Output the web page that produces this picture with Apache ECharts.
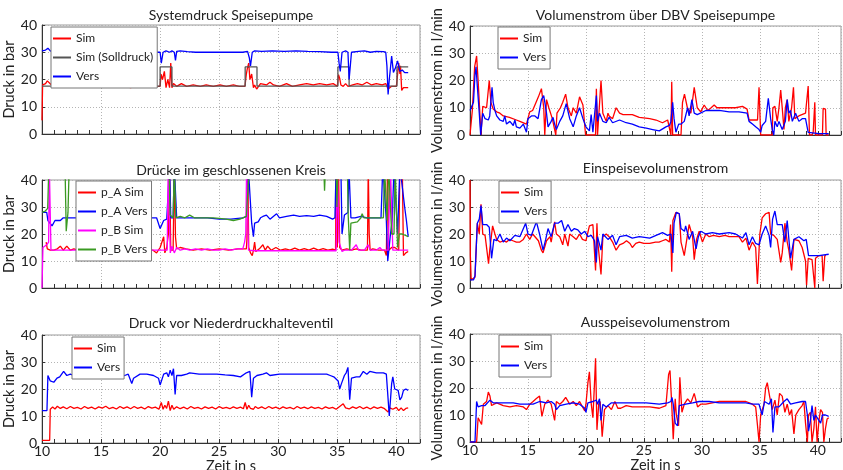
<!DOCTYPE html>
<html><head><meta charset="utf-8">
<script src="https://cdn.jsdelivr.net/npm/echarts@6/dist/echarts.min.js"></script>
<style>html,body{margin:0;padding:0;background:#fff}#c{width:843px;height:470px}</style>
</head><body><div id="c"></div>
<script>
// ---- axis ranges / tick labels ----
const xRange = [10, 42];
const xMajor = 5;
const xMinor = 1;
const yRange = [0, 40];
const yMajor = 10;

// ---- Panel 1: Systemdruck Speisepumpe ----
const sysSim = [[10,5],[10.05,18],[10.3,18.5],[10.45,19.5],[10.6,19.8],[10.8,18],[11,17.5],[11.5,17.5],[12,17.8],[13,17.5],[14,17.8],[15,17.5],[16,17.5],[17,17.5],[17.5,17],[18,17.5],[19,17.5],[19.6,17.5],[20,17.5],[20.08,22],[20.2,20],[20.36,23],[20.5,17],[20.65,20],[20.8,17],[20.9,26],[21,17],[21.13,18.5],[21.4,17.5],[21.8,18.5],[22.25,17.5],[22.8,18],[23.4,17.5],[23.9,18],[24.5,17.5],[25.07,18],[25.6,17.5],[26.2,18],[26.7,17.5],[27.18,17.5],[27.3,22],[27.38,24],[27.5,26],[27.6,20],[27.75,22],[27.9,17],[28,18],[28.17,16.5],[28.5,18.5],[29,18],[29.3,19],[29.6,18],[30.1,17.5],[30.7,18.5],[31.2,17.5],[31.8,18],[32.4,18.5],[32.96,18],[33.5,18.5],[34.1,18],[34.65,18.5],[35,17.5],[35.1,21.8],[35.2,20.5],[35.3,18],[35.5,17.5],[35.7,18.5],[35.9,17.5],[36.05,17],[36.3,18],[36.7,18.5],[37.1,18],[37.5,19],[37.9,18],[38.3,18.5],[38.8,18],[39.1,18.5],[39.3,16.5],[39.6,17.5],[40,17.5],[40.1,18],[40.2,26],[40.3,22],[40.35,25],[40.45,16],[40.6,17],[41,17]];
const sysSoll = [[10,17.6],[20,17.6],[20,24.6],[21,24.6],[21,17.6],[27.2,17.6],[27.2,24.6],[28.2,24.6],[28.2,17.6],[35.05,17.6],[35.05,24.6],[36,24.6],[36,17.6],[40.05,17.6],[40.05,24.6],[41,24.6]];
const sysVers = [[10,30.5],[10.3,30.8],[10.5,31.5],[10.7,30.5],[11,30],[12,30.2],[13,30],[14,30.2],[15,30],[16,30.2],[17,30],[18,30.2],[19,30],[19.6,30],[20.0,30],[20.1,26],[20.25,30],[20.5,30.5],[20.8,30],[21,30.5],[21.2,30],[21.3,27],[21.4,30.3],[21.7,30.5],[22.3,30.2],[23,30],[24,30],[25,30],[26,30],[27,30],[27.4,30.3],[27.55,28],[27.65,25],[27.8,30],[28,30.5],[28.6,30.3],[29.5,30.5],[30.5,30.3],[31.5,30.5],[32.5,30.3],[33.5,30.2],[34.5,30],[35.05,30],[35.15,26],[35.25,23],[35.4,30],[35.7,30.5],[35.9,30],[36,20],[36.1,25],[36.2,30],[36.8,30.3],[37.3,30.5],[37.8,30],[38.3,30.3],[38.9,30.2],[39.1,30],[39.2,25],[39.3,14.5],[39.4,20],[39.6,28.6],[39.75,22.6],[39.9,24],[40.1,26.8],[40.3,23],[40.5,23.5],[40.7,22.5],[41,22.5]];

// ---- Panel 2: Volumenstrom über DBV Speisepumpe ----
const dbvSim = [[10,0],[10.1,0],[10.2,9],[10.4,25],[10.57,29],[10.7,20],[10.95,0],[11.1,10.5],[11.43,10],[11.5,9.5],[11.66,20],[11.8,12],[12,9.5],[12.3,8.5],[12.58,8],[12.87,7],[13.4,6.5],[14,5.5],[14.3,5],[14.87,4],[15.15,8.5],[15.4,9],[15.9,14],[16.16,17],[16.36,10],[16.45,0],[16.6,13],[16.8,10],[17.1,6],[17.4,0],[17.5,8],[17.8,10],[18.0,12],[18.25,15],[18.45,10],[18.74,7],[18.9,10],[19.17,8],[19.45,14],[19.74,11],[19.97,0],[20.83,0],[20.9,17],[21.0,0],[21.15,10],[21.3,20],[21.46,8],[21.75,5],[21.9,8],[22.0,7],[22.3,6],[22.6,10],[22.9,8],[23.2,7.5],[24,7.5],[24.6,6.5],[25.5,6],[26.05,5.5],[26.6,4.5],[27.05,5.5],[27.2,6],[27.33,0],[27.4,19.5],[27.48,0],[28.2,0],[28.33,12],[28.5,15],[28.75,10],[29.05,8],[29.34,17.5],[29.6,10],[29.9,8.5],[30.2,11],[30.5,9],[30.8,10],[31.06,11],[31.3,10],[32.06,10],[32.9,10],[33.5,10.5],[33.64,10],[33.9,9.5],[34.07,5.5],[34.8,5.5],[34.93,17.5],[35.07,0],[36.07,0],[36.12,10],[36.3,10.5],[36.5,5],[36.65,10],[36.8,16.5],[36.93,10],[37.08,2],[37.2,10],[37.36,13],[37.5,5],[37.74,10],[37.9,17.5],[38.02,6],[38.36,7],[38.94,8],[39.1,8.5],[39.17,18],[39.28,0],[39.5,0],[39.6,1],[39.74,12],[39.8,0],[40.4,0],[40.46,9.8],[40.66,9.5],[40.72,0],[40.94,0]];
const dbvVers = [[10,9],[10.15,9],[10.3,12],[10.43,22],[10.52,25],[10.63,18],[10.8,8],[10.92,0],[11.1,8],[11.3,6],[11.43,6.5],[11.58,5.5],[11.7,7],[11.9,17.5],[12.0,12],[12.15,9],[12.3,7],[12.58,5.5],[12.87,5],[13.0,7],[13.15,4],[13.44,5],[13.73,3.5],[13.87,5.5],[14.0,3],[14.3,2.5],[14.6,4],[14.87,1],[15.0,6],[15.3,7],[15.6,7],[15.87,6],[16.16,13],[16.36,14.5],[16.6,8],[16.73,3],[17.0,5],[17.16,6.5],[17.3,4],[17.45,2],[17.74,5],[18.0,7],[18.3,11.5],[18.6,6],[18.9,3],[19.17,7],[19.45,10],[19.74,6],[20.0,3],[20.3,1.5],[20.45,7.5],[20.6,1],[20.9,14.5],[21.0,5],[21.17,8],[21.46,5],[21.75,4.5],[22.0,6.5],[22.3,4.5],[22.9,5.5],[23.47,4.5],[24.0,4],[24.6,3],[25.2,2.5],[25.76,2],[26.33,1.5],[26.9,3],[27.2,3.5],[27.33,5],[27.48,12],[27.6,6],[27.76,1],[28.0,4],[28.2,4],[28.48,5],[28.77,10],[28.9,7],[29.14,13],[29.34,8],[29.6,7.5],[30.34,9],[30.9,9],[31.5,9],[32.35,8.5],[33.2,8.5],[33.9,8],[34.07,5],[34.36,4],[34.64,3],[34.93,2],[35.07,1],[35.2,3.5],[35.5,5],[35.73,13.5],[35.93,6],[36.07,2],[36.2,0],[36.3,5],[36.5,3],[36.65,5],[36.93,2],[37.2,5],[37.36,13],[37.5,8],[37.65,9],[37.8,5],[38.08,8],[38.37,5],[38.65,6],[38.94,6],[39.17,1],[39.28,0.5],[40.1,0.5],[40.94,0.5]];

// ---- Panel 3: Drücke im geschlossenen Kreis ----
const paSim = [[10.35,17],[10.45,14.5],[10.7,14],[11,14],[11.3,14.5],[11.55,15.5],[11.8,14],[12.1,15.5],[12.4,14],[12.7,14.5],[13,14],[14,14.5],[15,14],[16,14.5],[17,14],[18,14.5],[19,14],[19.4,14],[19.7,13],[20,15],[20.3,19],[20.4,13],[20.56,15],[20.7,20],[20.8,45],[20.9,14],[21.1,14],[21.2,45],[21.3,19],[21.4,14.5],[21.7,15],[22.2,14.5],[22.8,14],[23.5,14.5],[24.2,14],[25,14.5],[25.8,14],[26.6,14.5],[27.3,14.5],[27.35,18],[27.42,45],[27.5,15],[27.65,13],[27.8,12],[27.9,14],[28.0,17],[28.1,13.5],[28.4,14.5],[28.7,16],[28.9,14],[29.1,15.5],[29.4,14],[29.8,15],[30.2,14],[30.6,14.5],[31,14],[31.4,14.8],[31.8,14],[32.2,14.6],[32.6,14],[33,14.8],[33.4,14],[33.8,14.6],[34.2,14],[34.6,14.4],[34.85,14],[34.9,45],[35.0,15],[35.1,45],[35.2,15],[35.4,14],[35.8,14.5],[36.2,14],[36.6,14.5],[37,14],[37.55,14],[37.62,45],[37.7,20],[37.78,14],[38,14.5],[38.5,14],[39.0,14],[39.15,12],[39.25,45],[39.35,14],[39.6,15],[39.86,15],[40.2,14],[40.3,45],[40.5,45],[40.6,12],[40.8,13],[41,13.5]];
const paVers = [[10,28],[10.4,28],[10.5,25],[10.56,25],[10.85,23],[11.1,25],[11.55,25],[11.8,26],[12.1,26],[12.5,26],[13,26],[14,26.5],[15,26],[16,26.5],[17,26],[18,26.5],[19,26],[19.7,26],[20.0,22],[20.3,25],[20.56,25.5],[20.8,45],[20.9,26],[21.1,26],[21.2,45],[21.4,26],[22,26],[23,26],[24,26],[25,25.5],[26,25.5],[27,26],[27.35,26.5],[27.46,45],[27.55,45],[27.75,24],[27.9,19],[28.0,24],[28.3,24.5],[28.5,26],[28.7,26.5],[29.0,27],[29.3,25.5],[29.86,27.5],[30.1,26],[30.7,26.5],[31.3,27],[31.8,26.5],[32.4,26.8],[33,26.5],[33.5,27],[34.1,26.5],[34.6,25.5],[34.8,26],[34.9,45],[35.3,45],[35.4,20],[35.6,27],[35.9,28],[35.98,45],[36.05,45],[36.15,26],[36.5,26],[37,26.5],[37.5,26],[38,26],[38.7,26],[38.85,45],[39.0,45],[39.15,25],[39.27,10],[39.5,20],[39.65,25],[39.8,45],[39.95,45],[40.1,20],[40.3,45],[40.45,45],[40.7,30],[40.85,25],[41,19]];
const pbSim = [[10,0],[10.08,15],[10.4,16],[10.56,17],[10.62,45],[10.7,45],[10.76,14],[11,14],[12,14],[13,14],[14,14],[15,14],[16,14],[17,14],[18,14],[19,14],[20,14],[20.6,14],[20.68,45],[20.78,45],[20.86,13],[21.0,15.5],[21.2,13],[21.4,15],[21.7,14],[22.1,14.5],[22.5,14],[23,14.5],[23.5,14],[24,14.5],[24.5,14],[25,14],[25.5,14.5],[26,14],[26.5,14.5],[27,14.5],[27.15,17],[27.25,20],[27.32,45],[27.4,45],[27.48,14],[28,13.8],[29,13.8],[30,13.8],[31,13.8],[32,13.8],[33,13.8],[34,13.8],[34.9,13.8],[35.0,45],[35.08,45],[35.15,17],[35.3,17],[35.4,13.5],[35.6,14],[36.2,14],[36.6,16],[36.8,14],[37.3,14],[37.6,16],[37.8,14],[38.3,14],[38.6,15],[38.8,14],[39.3,14],[39.5,45],[39.6,45],[39.7,14],[40.2,14],[40.6,14],[41,14]];
const pbVers = [[10,28],[10.28,28.5],[10.48,29.5],[10.58,45],[11.95,45],[12.05,21],[12.2,28],[12.3,45],[20.75,45],[20.85,27],[21.0,27],[21.1,26],[21.2,45],[21.33,26],[21.7,26.5],[22.1,26],[22.5,27],[22.9,26],[23.4,26],[24,26],[24.5,26],[25,25.8],[25.6,25.5],[26.2,25],[26.76,25.5],[27.3,26.5],[27.46,27],[27.55,45],[33.85,45],[33.92,36],[34.0,45],[34.9,45],[34.97,30],[35.05,45],[35.85,45],[35.92,27],[36.0,27],[36.05,14],[36.15,24],[36.7,24.5],[37.0,26],[37.1,27.5],[37.25,26],[37.7,26],[38.5,26],[38.9,26],[39.0,45],[39.1,45],[39.2,25],[39.35,45],[39.45,45],[39.6,20],[39.8,20],[39.9,45],[40.0,45],[40.1,15],[40.25,20],[40.5,20],[41,19]];

// ---- Panel 4: Einspeisevolumenstrom ----
const einSim = [[10,40],[10.03,12],[10.1,3],[10.43,4],[10.57,4.5],[10.63,24],[10.8,20],[10.95,31],[11.1,20],[11.3,19.5],[11.6,9],[11.7,14],[11.95,23],[12.15,20],[12.3,18],[12.58,17],[12.9,17.5],[13.15,17],[13.4,18],[13.7,17.5],[14.0,17],[14.3,17],[14.6,18],[14.87,20],[15.15,18],[15.4,20],[15.9,17.5],[16.16,14],[16.3,13],[16.6,17.5],[16.9,19],[17.0,17],[17.3,24.5],[17.45,20],[17.74,19],[18.0,16],[18.17,20],[18.45,15.5],[18.6,20],[18.9,19],[19.17,18],[19.45,20],[19.7,18],[20.0,17.5],[20.3,23],[20.6,23.5],[20.74,23],[20.83,6.5],[20.95,24],[21.0,18],[21.3,5],[21.46,19],[21.75,20],[22.0,19],[22.3,17],[22.6,14],[22.9,16],[23.2,16.5],[23.5,17.5],[23.8,16.5],[24.0,15],[24.3,16.5],[24.6,17],[25.0,16.5],[25.5,16.5],[26.0,17],[26.3,17],[26.6,17.5],[26.9,18],[27.2,17],[27.3,23.5],[27.4,6],[27.5,25],[27.76,28],[28.05,27.5],[28.2,17],[28.48,12],[28.7,18],[28.9,23.5],[29.2,19],[29.34,10.5],[29.54,18],[29.77,21],[30.05,17],[30.34,20],[30.63,19],[31.0,19.5],[31.5,19],[32.0,19.5],[32.35,19],[32.8,19],[33.2,19],[33.5,17],[33.8,18.5],[34.07,14],[34.36,17],[34.64,15],[34.79,1.5],[35.0,20],[35.2,26],[35.5,27.5],[35.8,28],[35.93,20],[36.2,19.5],[36.5,18],[36.8,9.5],[36.93,13],[37.16,24],[37.36,17],[37.5,14],[37.74,6.5],[37.94,18],[38.37,17.5],[38.65,15],[38.94,10],[39.03,1],[39.17,11],[39.5,10.5],[39.65,10],[39.74,0],[39.8,11],[40.1,12],[40.37,12],[40.46,2.5],[40.6,12],[40.7,12]];
const einVers = [[10,3],[10.3,3],[10.43,4.5],[10.57,5],[10.63,24],[10.8,25.5],[10.95,30.5],[11.1,23.5],[11.43,23.5],[11.66,22.5],[11.86,11],[12.06,18],[12.3,17.5],[12.58,20],[12.87,17],[13.15,18.5],[13.44,17.5],[13.87,19.5],[14.3,19],[14.8,24],[15.0,20],[15.3,19.5],[15.73,24.5],[16.0,20],[16.3,14],[16.53,18],[16.73,22],[17.0,19],[17.3,24],[17.6,24],[17.9,25],[18.17,21],[18.45,23.5],[18.74,21],[19.0,22],[19.3,21.5],[19.6,20],[19.9,21],[20.17,19],[20.46,19.5],[20.74,17.5],[20.9,9.5],[21.0,19],[21.3,14],[21.46,20],[21.9,18],[22.3,19.5],[22.6,16],[22.9,19],[23.47,19.5],[24.0,18.5],[24.6,19],[25.5,18.5],[26.05,19.5],[26.6,20.5],[27.05,19.5],[27.33,20],[27.5,13],[27.6,24],[27.8,28],[28.05,27.5],[28.2,22],[28.5,21],[28.6,23],[28.9,18],[29.2,21],[29.5,14.5],[29.7,19],[29.9,21],[30.34,20],[30.9,20.5],[31.5,20],[32.35,20.5],[32.9,20],[33.5,18.5],[33.8,20.5],[34.07,16],[34.36,19],[34.64,16.5],[34.93,16],[35.2,20],[35.5,23],[35.8,19.5],[35.93,15],[36.1,25.5],[36.3,28.5],[36.5,23.5],[36.93,23.5],[37.16,17],[37.36,25],[37.65,11],[37.94,18],[38.37,19],[38.8,17.5],[39.0,18],[39.2,12],[39.5,12],[40.1,12],[40.94,12.5]];

// ---- Panel 5: Druck vor Niederdruckhalteventil ----
const ndSim = [[10,1],[10.65,1],[10.7,12.5],[10.9,13.3],[11.1,12.6],[11.3,13.6],[11.55,12.8],[11.8,13.4],[12.1,12.7],[12.4,13.5],[12.7,12.8],[13.0,13.2],[13.3,12.6],[13.6,13.5],[13.9,12.8],[14.2,13.3],[14.5,12.6],[14.8,13.4],[15.1,12.9],[15.4,13.6],[15.7,12.7],[16.0,13.2],[16.3,12.6],[16.6,13.5],[16.9,12.8],[17.2,13.4],[17.5,12.7],[17.8,13.5],[18.1,12.8],[18.4,13.3],[18.7,12.6],[19.0,13.5],[19.3,12.9],[19.6,13.3],[19.9,12.5],[20.1,15],[20.25,12.5],[20.4,14],[20.55,12.8],[20.7,15.5],[20.85,12],[21.0,14],[21.15,12.5],[21.4,13.4],[21.7,12.7],[22.0,13.3],[22.3,12.6],[22.6,13.5],[22.9,12.8],[23.2,13.2],[23.5,12.6],[23.8,13.4],[24.1,12.8],[24.4,13.3],[24.7,12.6],[25.0,13.5],[25.3,12.8],[25.6,13.2],[25.9,12.7],[26.2,13.4],[26.5,12.8],[26.8,13.3],[27.05,12.7],[27.2,15],[27.35,12.5],[27.5,14],[27.65,12.8],[27.9,12.5],[28.05,13.5],[28.3,12.8],[28.6,13.4],[28.9,12.7],[29.2,13.5],[29.5,12.8],[29.8,13.3],[30.1,12.6],[30.4,13.4],[30.7,12.8],[31.0,13.2],[31.3,12.6],[31.6,13.5],[31.9,12.8],[32.2,13.3],[32.5,12.7],[32.8,13.4],[33.1,12.8],[33.4,13.2],[33.7,12.6],[34.0,13.4],[34.3,12.8],[34.6,13.2],[34.9,12.5],[35.2,13.5],[35.5,14.5],[35.7,13],[36.0,12.6],[36.3,13.4],[36.6,12.8],[36.9,13.5],[37.2,12.7],[37.5,13.3],[37.8,12.6],[38.1,13.4],[38.4,12.8],[38.7,13.3],[39.0,12.7],[39.3,11.5],[39.45,13],[39.7,12.5],[40.0,13.2],[40.2,12],[40.4,13],[40.6,12],[40.8,12.8],[41,13]];
const ndVers = [[10,12],[10.42,12],[10.5,25],[10.7,23],[11.0,22.5],[11.27,24],[11.5,24.5],[11.83,26.5],[12.1,25],[12.4,25.5],[12.68,25],[13.1,24.5],[13.5,25],[13.8,25],[14.3,25],[14.9,24.5],[15.5,24.5],[16.06,24.5],[16.6,25.5],[17.0,25],[17.3,25.5],[17.6,22],[17.75,24],[18.3,25.5],[18.87,25.5],[19.44,25],[19.86,24],[20.0,21.5],[20.3,25.5],[20.56,26],[20.7,24.5],[20.85,27],[21.0,25],[21.13,27.5],[21.27,18],[21.4,25],[21.8,25],[22.25,25.5],[22.5,26],[23.3,25.5],[24.1,25.5],[24.8,25.5],[25.5,25.2],[26.2,25],[26.8,24.5],[27.3,26],[27.6,26.5],[27.75,17],[27.9,24],[28.2,25],[28.7,25.5],[29.0,26],[29.3,25],[30.1,25.5],[31.3,25.5],[32.4,25.5],[33.5,25.5],[34.1,25.5],[34.4,25],[34.7,24.5],[35.07,23],[35.2,20],[35.35,22],[35.6,25],[35.75,26],[35.9,28],[36.05,16],[36.2,24],[36.6,24.5],[36.9,24.5],[37.2,26.5],[37.5,25.5],[37.75,26.5],[38.3,26],[38.9,26],[39.15,25.5],[39.4,10],[39.6,22],[39.7,24.5],[39.86,20],[40.15,19.5],[40.3,16],[40.45,17],[40.6,19.5],[40.8,20],[41,19.5]];

// ---- Panel 6: Ausspeisevolumenstrom ----
const ausSim = [[10,0],[10.57,0],[10.7,9],[10.86,9],[11.0,6.5],[11.15,14],[11.43,15],[11.58,18.5],[11.72,17],[11.86,13.5],[12.3,14.5],[12.87,13.5],[13.44,13],[14.0,13.5],[14.6,13],[14.87,12],[15.16,14],[15.44,15],[15.7,16],[15.87,16.5],[16.0,17],[16.2,9.5],[16.45,14],[16.73,15.5],[17.0,14],[17.3,8],[17.45,15],[17.74,14],[18.0,15],[18.25,16.5],[18.6,14],[18.9,15],[19.17,13.5],[19.45,15],[19.9,11.5],[20.0,14],[20.17,22],[20.3,26],[20.46,14],[20.6,9],[20.74,22],[20.83,31],[20.95,4.5],[21.1,14],[21.23,15],[21.4,2],[21.6,12],[21.9,13.5],[22.2,12],[22.5,15],[22.75,12.5],[23.0,12.5],[23.47,13.5],[24.0,13],[24.6,13],[25.5,13],[26.33,12.5],[26.9,13.5],[27.13,25],[27.25,26.5],[27.4,14],[27.53,1],[27.7,16],[27.8,10],[27.99,6],[28.1,24],[28.28,11],[28.48,14],[28.77,16],[29.05,14.5],[29.34,18],[29.63,13],[29.9,14],[30.34,14],[30.9,14.5],[31.5,15],[32.35,15],[33.2,15],[33.8,15],[34.36,14],[34.64,13],[34.8,6],[34.93,0],[35.07,10],[35.36,14],[35.5,20],[35.64,22],[35.84,17],[36.07,12],[36.3,15.5],[36.5,10],[36.7,18],[36.93,17],[37.16,11],[37.36,14],[37.56,10],[37.74,12],[37.94,3],[38.1,10],[38.37,12],[38.65,13.5],[38.8,15],[38.94,7],[39.1,0],[39.2,10],[39.36,11],[39.5,0],[39.66,5],[39.8,13],[39.94,0],[40.1,8],[40.24,12],[40.4,11],[40.52,0],[40.66,5],[40.8,8.5],[40.94,9]];
const ausVers = [[10,0],[10.43,0],[10.57,15],[10.7,13],[11.0,13.5],[11.3,13.5],[11.72,15.5],[12.0,14.5],[12.58,14.5],[13.15,14.5],[13.73,14.5],[14.3,14],[14.87,14],[15.44,14],[16.0,15],[16.6,14.5],[17.0,15],[17.3,14],[17.45,12],[17.74,13.5],[18.3,14],[18.9,14.5],[19.45,14],[19.9,12.5],[20.0,11],[20.17,14.5],[20.6,15],[20.9,15.5],[21.0,14],[21.17,16],[21.3,8],[21.46,14],[21.75,13],[22.2,14.5],[22.9,14.5],[24.0,14.5],[25.2,14.5],[26.33,14],[27.05,14.5],[27.33,15],[27.42,16.5],[27.53,14],[27.7,7],[27.9,6],[28.05,13.5],[28.6,14],[29.2,14.5],[29.77,15],[30.63,15],[31.5,14.5],[32.64,14.5],[33.8,14.5],[34.36,14],[34.93,14],[35.2,10],[35.4,15],[35.8,14],[36.0,16],[36.13,3.5],[36.3,13],[36.65,13],[37.08,15],[37.36,16],[37.65,14],[38.08,14.5],[38.65,15],[38.94,15],[39.1,10],[39.2,4],[39.36,8],[39.5,13.5],[39.66,8],[39.8,10],[39.94,10],[40.24,7],[40.4,10],[40.66,10],[40.94,9.5]];

// ---- layout / styling ----
const FONT = 'Lato, "Open Sans", sans-serif';
const RED = '#ff0000', BLUE = '#0000ff', GRAY = '#555555', MAG = '#ff00ff', GREEN = '#3a9a22';
const grids = [
  {left:42, top:25, width:378, height:109},
  {left:470, top:26, width:371, height:109},
  {left:42, top:180, width:378, height:108},
  {left:470, top:180, width:371, height:108},
  {left:42, top:335, width:378, height:108},
  {left:470, top:334, width:371, height:108}
];
const panels = [
  {title:'Systemdruck Speisepumpe', titleY:15, yName:'Druck in bar', gap:21,
   lines:[['Sim',sysSim,RED],['Sim (Solldruck)',sysSoll,GRAY],['Vers',sysVers,BLUE]], leg:[51,27]},
  {title:'Volumenstrom über DBV Speisepumpe', titleY:15, yName:'Volumenstrom in l/min', gap:22,
   lines:[['Sim',dbvSim,RED],['Vers',dbvVers,BLUE]], leg:[498,27]},
  {title:'Drücke im geschlossenen Kreis', titleY:170, yName:'Druck in bar', gap:21,
   lines:[['p_A Sim',paSim,RED],['p_A Vers',paVers,BLUE],['p_B Sim',pbSim,MAG],['p_B Vers',pbVers,GREEN]], leg:[76,181]},
  {title:'Einspeisevolumenstrom', titleY:168, yName:'Volumenstrom in l/min', gap:22,
   lines:[['Sim',einSim,RED],['Vers',einVers,BLUE]], leg:[499,181]},
  {title:'Druck vor Niederdruckhalteventil', titleY:323, yName:'Druck in bar', gap:21,
   lines:[['Sim',ndSim,RED],['Vers',ndVers,BLUE]], leg:[72,337]},
  {title:'Ausspeisevolumenstrom', titleY:322, yName:'Volumenstrom in l/min', gap:22,
   lines:[['Sim',ausSim,RED],['Vers',ausVers,BLUE]], leg:[499,335]}
];

const grid = [], xAxis = [], yAxis = [], series = [], legend = [], graphic = [];
panels.forEach((p, g) => {
  const isBottom = g >= 4;
  grid.push(Object.assign({show:true, borderColor:'#9a9a9a', borderWidth:1, backgroundColor:'transparent', outerBoundsMode:'none', containLabel:false}, grids[g]));
  xAxis.push({type:'value', gridIndex:g, min:xRange[0], max:xRange[1], interval:xMajor, position:'bottom',
    axisLine:{show:true, onZero:false, lineStyle:{color:'#333', width:1}}, axisTick:{show:false},
    axisLabel:{show:isBottom, showMaxLabel:false, margin:1, fontSize:14, color:'#222', fontFamily:FONT},
    splitLine:{show:true, lineStyle:{color:'#b4b4b4', type:[1,2], width:1}},
    name:isBottom ? 'Zeit in s' : '', nameLocation:'middle', nameGap:11,
    nameTextStyle:{fontSize:14.5, color:'#222', fontFamily:FONT}});
  xAxis.push({type:'value', gridIndex:g, min:xRange[0], max:xRange[1], interval:xMinor, position:'bottom',
    axisLine:{show:false, onZero:false}, axisTick:{show:true, inside:true, length:4, lineStyle:{color:'#333'}},
    axisLabel:{show:false}, splitLine:{show:false}});
  yAxis.push({type:'value', gridIndex:g, min:yRange[0], max:yRange[1], interval:yMajor,
    axisLine:{show:true, onZero:false, lineStyle:{color:'#333', width:1}},
    axisTick:{show:true, inside:true, length:3, lineStyle:{color:'#333'}},
    axisLabel:{margin:5, fontSize:14, color:'#222', fontFamily:FONT},
    splitLine:{show:true, lineStyle:{color:'#b4b4b4', type:[1,2], width:1}},
    name:p.yName, nameLocation:'middle', nameGap:p.gap,
    nameTextStyle:{fontSize:14.5, color:'#222', fontFamily:FONT}});
  p.lines.forEach(([name, data, color]) => {
    series.push({type:'line', name, data, xAxisIndex:2*g, yAxisIndex:g, showSymbol:false, symbol:'none',
      clip:true, animation:false, color, lineStyle:{color, width:1.3}, emphasis:{disabled:true}, silent:true});
  });
  legend.push({orient:'vertical', left:p.leg[0], top:p.leg[1], data:p.lines.map(l => l[0]),
    icon:'rect', itemWidth:18, itemHeight:2, itemGap:4, padding:[4,4,4,2],
    borderColor:'#777', borderWidth:1, backgroundColor:'#fff', selectedMode:false,
    textStyle:{fontSize:12, color:'#222', fontFamily:FONT, lineHeight:15}});
  graphic.push({type:'text', x:grids[g].left + grids[g].width/2, y:p.titleY,
    style:{text:p.title, fontSize:14, fontFamily:FONT, fill:'#222', align:'center', verticalAlign:'middle', textAlign:'center', textVerticalAlign:'middle'}});
});

const chart = echarts.init(document.getElementById('c'), null, {renderer:'canvas'});
chart.setOption({animation:false, backgroundColor:'#fff', grid, xAxis, yAxis, series, legend, graphic});
</script></body></html>
